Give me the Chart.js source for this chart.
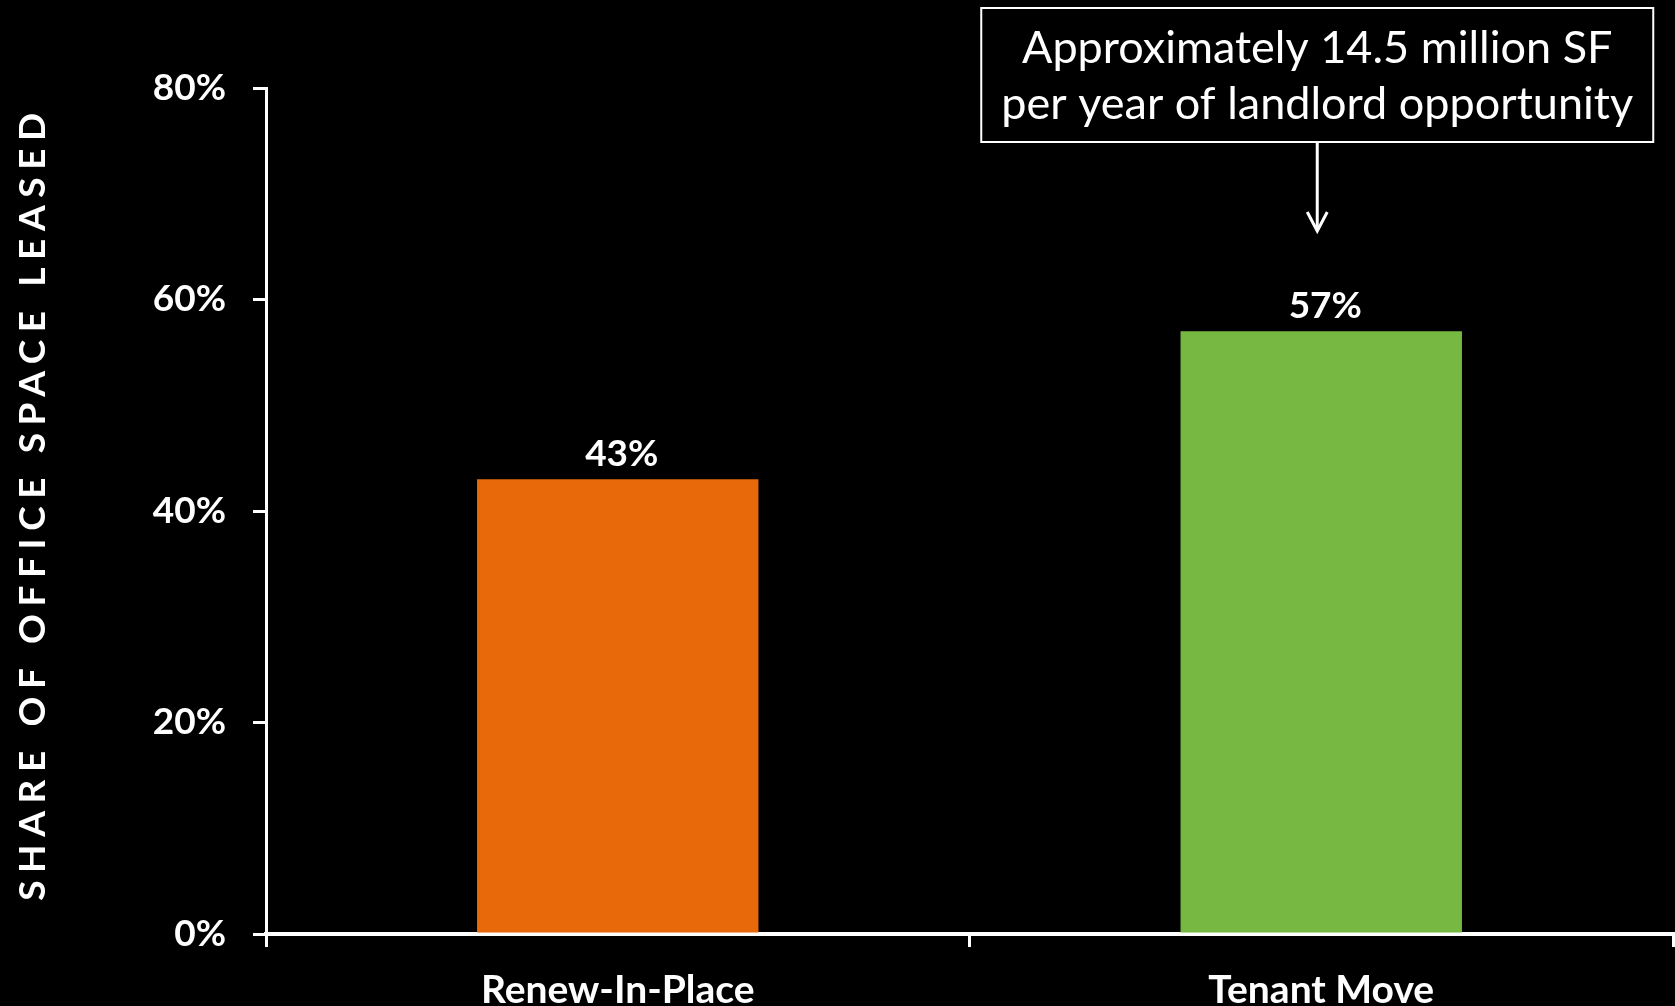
<!DOCTYPE html>
<html>
<head>
<meta charset="utf-8">
<script src="https://cdn.jsdelivr.net/npm/chart.js@4.4.1/dist/chart.umd.min.js"></script>
<style>
  html, body { margin: 0; padding: 0; background: #000; }
  #wrap { width: 1675px; height: 1006px; position: relative; }
</style>
</head>
<body>
<div id="wrap"><canvas id="leaseChart"></canvas></div>
<script>
// categories and values
const categories = ["Renew-In-Place", "Tenant Move"];
const shareLeased = [43, 57];
const barColors = ["#E8690A", "#77B843"];
const yTicks = [0, 20, 40, 60, 80];

const yTitle = "SHARE OF OFFICE SPACE LEASED";
const calloutLines = ["Approximately 14.5 million SF", "per year of landlord opportunity"];
const calloutIndex = 1;

const FONT = "Lato, 'Open Sans', sans-serif";

/* =========================
   PLUGINS
========================= */

// value labels above each bar
const valueLabels = {
    id: "valueLabels",
    afterDatasetsDraw(chart) {
        const ctx = chart.ctx;
        const meta = chart.getDatasetMeta(0);
        ctx.save();
        ctx.fillStyle = "#fff";
        ctx.font = "bold 37px " + FONT;
        ctx.textAlign = "center";
        ctx.textBaseline = "alphabetic";
        meta.data.forEach((bar, i) => {
            ctx.fillText(shareLeased[i] + "%", bar.x + 4, bar.y - 13);
        });
        ctx.restore();
    }
};

// rotated, letter-spaced y axis title
const yAxisTitle = {
    id: "yAxisTitle",
    afterDraw(chart) {
        const ctx = chart.ctx;
        const area = chart.chartArea;
        ctx.save();
        ctx.translate(33, (area.top + area.bottom) / 2 - 4);
        ctx.rotate(-Math.PI / 2);
        ctx.fillStyle = "#fff";
        ctx.font = "bold 37px " + FONT;
        ctx.letterSpacing = "7.6px";
        ctx.textAlign = "center";
        ctx.textBaseline = "middle";
        ctx.fillText(yTitle, 4, 0);
        ctx.restore();
    }
};

// boxed note with arrow pointing at the second bar
const callout = {
    id: "callout",
    afterDraw(chart) {
        const ctx = chart.ctx;
        const bar = chart.getDatasetMeta(0).data[calloutIndex];
        const cx = bar.x - 4;
        const boxW = 672, boxTop = 8, boxBottom = 142;
        ctx.save();
        ctx.strokeStyle = "#fff";
        ctx.lineWidth = 2;
        ctx.strokeRect(cx - boxW / 2, boxTop, boxW, boxBottom - boxTop);

        ctx.fillStyle = "#fff";
        ctx.font = "45px " + FONT;
        ctx.textAlign = "center";
        ctx.textBaseline = "alphabetic";
        ctx.fillText(calloutLines[0], cx, 63);
        ctx.fillText(calloutLines[1], cx, 119);

        // arrow
        ctx.lineWidth = 3;
        ctx.beginPath();
        ctx.moveTo(cx, boxBottom);
        ctx.lineTo(cx, 231);
        ctx.stroke();
        ctx.beginPath();
        ctx.moveTo(cx - 10, 212);
        ctx.lineTo(cx, 231);
        ctx.lineTo(cx + 10, 212);
        ctx.stroke();
        ctx.restore();
    }
};

/* =========================
   CHART
========================= */

new Chart(document.getElementById("leaseChart"), {
    type: "bar",
    data: {
        labels: categories,
        datasets: [{
            data: shareLeased,
            backgroundColor: barColors,
            barPercentage: 0.4,
            categoryPercentage: 1
        }]
    },
    options: {
        responsive: true,
        maintainAspectRatio: false,
        animation: false,
        layout: { padding: { top: 88, right: 2, left: 0, bottom: 0 } },
        plugins: {
            legend: { display: false },
            tooltip: { enabled: false }
        },
        scales: {
            x: {
                grid: {
                    display: true,
                    drawOnChartArea: false,
                    color: "#fff",
                    lineWidth: 3,
                    tickLength: 13,
                    offset: true
                },
                border: { color: "#fff", width: 4 },
                ticks: {
                    color: "#fff",
                    font: { family: FONT, size: 39, weight: "bold" },
                    padding: 20
                },
                afterFit: s => { s.height = 72; }
            },
            y: {
                min: 0,
                max: 80,
                afterBuildTicks: s => { s.ticks = yTicks.map(v => ({ value: v })); },
                grid: {
                    display: true,
                    drawOnChartArea: false,
                    color: "#fff",
                    lineWidth: 3,
                    tickLength: 13
                },
                border: { color: "#fff", width: 3 },
                ticks: {
                    color: "#fff",
                    font: { family: FONT, size: 37, weight: "bold" },
                    padding: 27,
                    callback: v => v + "%"
                },
                afterFit: s => { s.width = 266; }
            }
        }
    },
    plugins: [valueLabels, yAxisTitle, callout]
});
</script>
</body>
</html>
